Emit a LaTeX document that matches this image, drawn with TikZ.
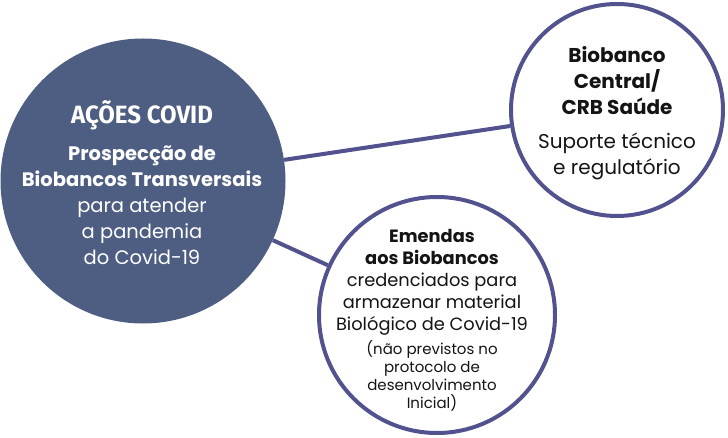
\documentclass[tikz,border=0pt]{standalone}
\usepackage{graphicx}
\usepackage{fontspec}
\setmainfont{Poppins}
\newfontfamily\condfont{Fira Sans}
\usetikzlibrary{positioning}
\definecolor{slate}{RGB}{78,94,130}
\definecolor{ring}{RGB}{82,82,143}
\definecolor{ink}{RGB}{20,20,20}
\tikzset{
  hubcircle/.style={circle,fill=slate,minimum size=285pt,inner sep=0pt},
  ringcircle/.style={circle,draw=ring,line width=4pt,fill=white,inner sep=0pt},
  link/.style={ring,line width=4pt},
  blurb/.style={align=center,text=ink,inner sep=0pt}
}
\newcommand{\covidtitle}[1]{{\condfont\bfseries\fontsize{25}{30}\selectfont\scalebox{0.96}[1]{#1}}}
\newcommand{\sz}[2]{\fontsize{#1}{#2}\selectfont}

\begin{document}
\begin{tikzpicture}[x=1pt,y=-1pt]
  \useasboundingbox (0,0) rectangle (728,438);

  % circles
  \node[hubcircle] (hub) at (143,181) {};
  \node[ringcircle,minimum size=212pt] (central) at (617,110) {};
  \node[ringcircle,minimum size=236pt] (emendas) at (437,315) {};

  % connectors
  \draw[link] (hub) -- (central);
  \draw[link] (hub) -- (emendas);

  % texts
  \node[blurb,text=white] (hubtitle) at (142,115) {\covidtitle{AÇÕES COVID}};
  \node[blurb,text=white,font=\bfseries\sz{19.5}{26}] (hubbold) at (142,166)
    {Prospecção de\\%
     Biobancos Transversais};
  \node[blurb,text=white,font=\sz{19.5}{26}] (hubbody) at (142,231)
    {para atender\\%
     a pandemia\\%
     do Covid-19};
  \node[blurb,font=\sz{20}{26}] (centraltext) at (617,113)
    {\textbf{Biobanco}\\%
     \textbf{Central/}\\%
     \textbf{CRB Saúde}\\[8pt]%
     Suporte técnico\\%
     e regulatório};
  \node[blurb,font=\sz{17.8}{22}] (emendastext) at (432,282)
    {\textbf{Emendas}\\%
     \textbf{aos Biobancos}\\%
     credenciados para\\%
     armazenar material\\%
     Biológico de Covid-19};
  \node[blurb,font=\sz{15}{18},below=5pt of emendastext] (notetext)
    {(não previstos no\\%
     protocolo de\\%
     desenvolvimento\\%
     Inicial)};
\end{tikzpicture}
\end{document}
